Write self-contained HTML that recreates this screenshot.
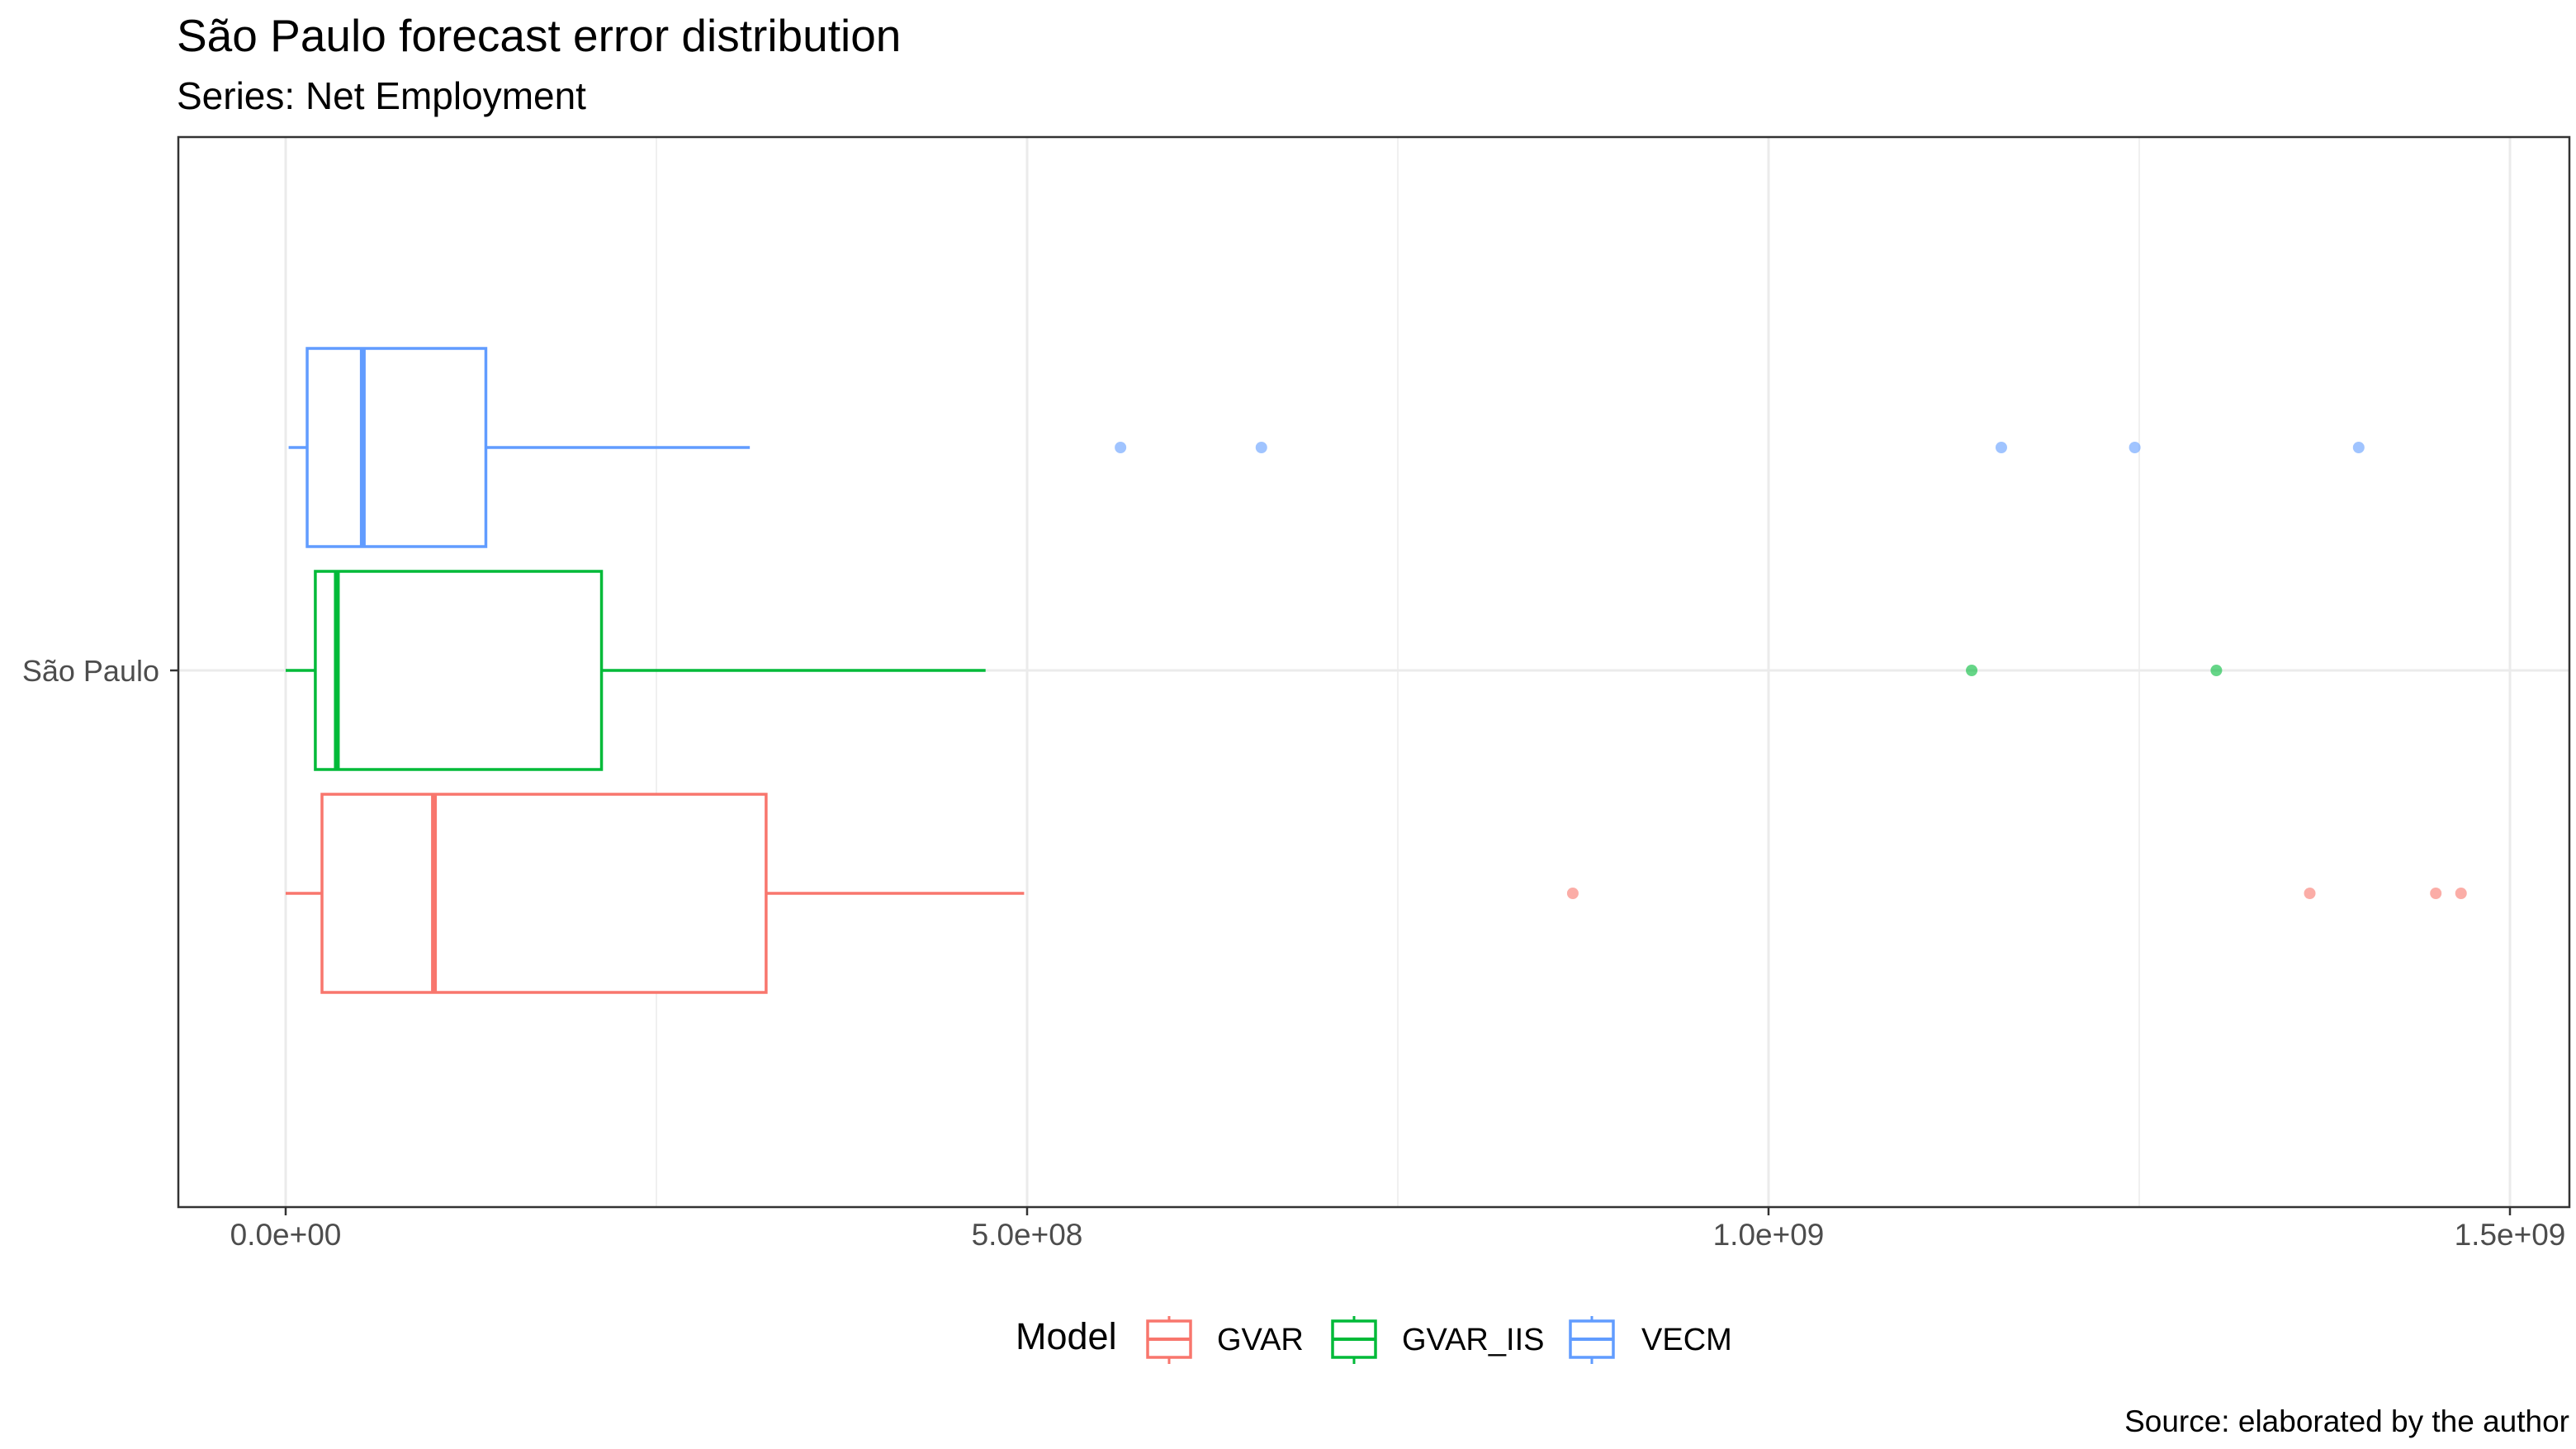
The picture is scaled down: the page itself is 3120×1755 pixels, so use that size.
<!DOCTYPE html>
<html><head><meta charset="utf-8"><style>
html,body{margin:0;padding:0;background:#fff;}
svg{display:block;font-family:"Liberation Sans",sans-serif;}
</style></head><body>
<svg id="chart" width="3120" height="1755" viewBox="0 0 3120 1755">
<text x="214" y="62" font-size="55" fill="#000">São Paulo forecast error distribution</text>
<text x="214" y="132" font-size="46" fill="#000">Series: Net Employment</text>
<g id="plot"></g>
<text x="3112" y="1734" font-size="37" text-anchor="end" fill="#000">Source: elaborated by the author</text>
</svg>
<script>
const models = ["GVAR","GVAR_IIS","VECM"];
const colors = ["#F8766D","#00BA38","#619CFF"];
const whiskerLow = [0, 0, 0.02e8];
const q1 = [0.245e8, 0.2e8, 0.145e8];
const median = [1.0e8, 0.345e8, 0.52e8];
const q3 = [3.24e8, 2.13e8, 1.35e8];
const whiskerHigh = [4.98e8, 4.72e8, 3.13e8];
const outliers = [[8.68e8, 13.65e8, 14.5e8, 14.67e8],[11.37e8, 13.02e8],[5.63e8, 6.58e8, 11.57e8, 12.47e8, 13.98e8]];
const xTicks = [0, 5e8, 1e9, 1.5e9];
const xTickLabels = ["0.0e+00","5.0e+08","1.0e+09","1.5e+09"];
const categories = ["São Paulo"];

const NS="http://www.w3.org/2000/svg";
const P={l:216,r:3112,t:166,b:1462};
const x=v=>346+(v/5e8)*898;
const yCenters=[1082,812,542];
const g=document.getElementById('plot');
function mk(t,a,p){const e=document.createElementNS(NS,t);for(const k in a)e.setAttribute(k,a[k]);(p||g).appendChild(e);return e;}

[2.5e8,7.5e8,12.5e8].forEach(v=>{const e=mk('line',{x1:x(v),x2:x(v),y1:P.t,y2:P.b,stroke:'#ebebeb','stroke-width':1.5});

});
xTicks.forEach(v=>{const e=mk('line',{x1:x(v),x2:x(v),y1:P.t,y2:P.b,stroke:'#ebebeb','stroke-width':3});

});
{const e=mk('line',{x1:P.l,x2:P.r,y1:812,y2:812,stroke:'#ebebeb','stroke-width':3});

}

models.forEach((m,i)=>{
 const c=colors[i],yc=yCenters[i],h=120;
 const gg=mk('g',{});
 
 
 mk('line',{x1:x(whiskerLow[i]),x2:x(q1[i]),y1:yc,y2:yc,stroke:c,'stroke-width':3.5},gg);
 mk('line',{x1:x(q3[i]),x2:x(whiskerHigh[i]),y1:yc,y2:yc,stroke:c,'stroke-width':3.5},gg);
 mk('rect',{x:x(q1[i]),y:yc-h,width:x(q3[i])-x(q1[i]),height:2*h,fill:'#fff',stroke:c,'stroke-width':3.5},gg);
 mk('line',{x1:x(median[i]),x2:x(median[i]),y1:yc-h,y2:yc+h,stroke:c,'stroke-width':7},gg);
 outliers[i].forEach(v=>{const d=mk('circle',{cx:x(v),cy:yc,r:7,fill:c,'fill-opacity':0.6});
 
 });
});

mk('rect',{x:P.l,y:P.t,width:P.r-P.l,height:P.b-P.t,fill:'none',stroke:'#333','stroke-width':2.5});

xTicks.forEach((v,i)=>{
 mk('line',{x1:x(v),x2:x(v),y1:P.b,y2:P.b+10,stroke:'#333','stroke-width':2.5});
 const t=mk('text',{x:x(v),y:P.b+46,'font-size':37,'text-anchor':'middle',fill:'#4d4d4d'});t.textContent=xTickLabels[i];
 
 
});
mk('line',{x1:P.l-10,x2:P.l,y1:812,y2:812,stroke:'#333','stroke-width':2.5});
{const t=mk('text',{x:193,y:825,'font-size':36,'text-anchor':'end',fill:'#4d4d4d'});t.textContent=categories[0];

}

{const t=mk('text',{x:1230,y:1634,'font-size':45,fill:'#000'});t.textContent='Model';

}
const keyX=[1388,1612,1900], txtX=[1474,1698,1988];
models.forEach((m,i)=>{
 const gg=mk('g',{});
 
 
 const c=colors[i],kx=keyX[i];
 mk('line',{x1:kx+28,x2:kx+28,y1:1594,y2:1652,stroke:c,'stroke-width':3},gg);
 mk('rect',{x:kx+2,y:1600,width:52,height:44,fill:'#fff',stroke:c,'stroke-width':3.5},gg);
 mk('line',{x1:kx+2,x2:kx+54,y1:1622,y2:1622,stroke:c,'stroke-width':4},gg);
 const t=mk('text',{x:txtX[i],y:1635,'font-size':38,fill:'#000'},gg);t.textContent=m;
});
</script>
</body></html>
